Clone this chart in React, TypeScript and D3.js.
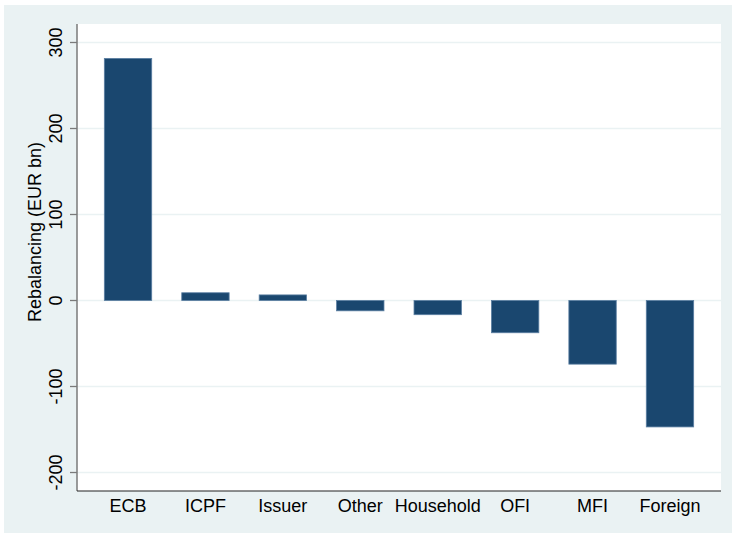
import React from "react";
import * as d3 from "d3";

const categories = ["ECB", "ICPF", "Issuer", "Other", "Household", "OFI", "MFI", "Foreign"];
const rebalancing = [281.5, 9, 6.5, -12, -16.5, -37.5, -74, -147];
const yTicks = [-200, -100, 0, 100, 200, 300];

const W = 736;
const H = 537;
const plot = { left: 77, right: 721, top: 24, bottom: 491 };
const FONT = "'Liberation Sans', Arial, Helvetica, sans-serif";
const FS = 18;

export default function App() {
  const y = d3.scaleLinear().domain([-221.5, 321.5]).range([plot.bottom, plot.top]);
  const x = d3
    .scaleBand<string>()
    .domain(categories)
    .range([plot.left, plot.right])
    .paddingInner(0.388)
    .paddingOuter(0.353);

  return (
    <svg width={W} height={H} style={{ position: "absolute", left: 0, top: 0 }}>
      <rect x={0} y={0} width={W} height={H} fill="#ffffff" />
      <rect x={4} y={5} width={728} height={528} fill="#eaf2f3" />
      <rect
        x={plot.left}
        y={plot.top}
        width={plot.right - plot.left}
        height={plot.bottom - plot.top}
        fill="#ffffff"
      />
      {/* horizontal grid */}
      {yTicks.map((t) => (
        <line
          key={"g" + t}
          x1={plot.left}
          x2={plot.right}
          y1={y(t)}
          y2={y(t)}
          stroke="#eaf2f3"
          strokeWidth={1.3}
        />
      ))}
      {/* bars */}
      {categories.map((c, i) => {
        const v = rebalancing[i];
        const y0 = y(0);
        const y1 = y(v);
        return (
          <rect
            key={c}
            x={x(c)}
            y={Math.min(y0, y1)}
            width={x.bandwidth()}
            height={Math.abs(y1 - y0)}
            fill="#1a476f"
            stroke="#5b7fa2"
            strokeWidth={0.8}
          />
        );
      })}
      {/* y axis */}
      <line x1={plot.left} x2={plot.left} y1={plot.top} y2={plot.bottom} stroke="#7a7a7a" strokeWidth={1.5} />
      {yTicks.map((t) => (
        <g key={"t" + t}>
          <line x1={plot.left - 7} x2={plot.left} y1={y(t)} y2={y(t)} stroke="#7a7a7a" strokeWidth={1.3} />
          <text
            transform={`translate(61.5,${y(t)}) rotate(-90)`}
            textAnchor="middle"
            fontFamily={FONT}
            fontSize={FS}
            fill="#000"
          >
            {t}
          </text>
        </g>
      ))}
      <text
        transform={`translate(40.5,232) rotate(-90)`}
        textAnchor="middle"
        fontFamily={FONT}
        fontSize={FS}
        fill="#000"
      >
        Rebalancing (EUR bn)
      </text>
      {/* x axis */}
      <line x1={plot.left} x2={plot.right} y1={plot.bottom} y2={plot.bottom} stroke="#222" strokeWidth={1.2} />
      {categories.map((c) => (
        <text
          key={"l" + c}
          x={(x(c) ?? 0) + x.bandwidth() / 2}
          y={511.7}
          textAnchor="middle"
          fontFamily={FONT}
          fontSize={FS}
          fill="#000"
        >
          {c}
        </text>
      ))}
    </svg>
  );
}
